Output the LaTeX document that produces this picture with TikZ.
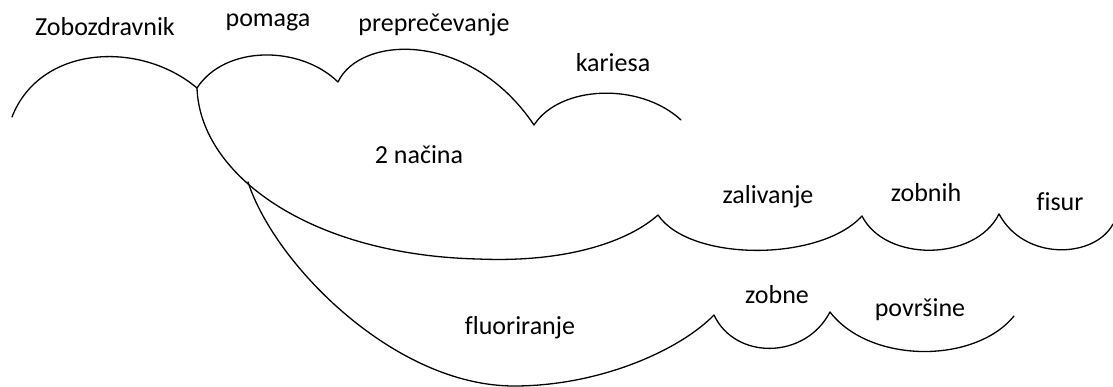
\documentclass[tikz,border=0pt]{standalone}
\usepackage{fontspec}
\setmainfont{Carlito}[Ligatures=NoCommon]
\begin{document}
\begin{tikzpicture}[x=1pt,y=-1pt,
  lbl/.style={anchor=base, inner sep=0pt, font=\fontsize{26}{30}\selectfont},
  link/.style={line width=1.3pt, line cap=round}]
\useasboundingbox (0,0) rectangle (1113,387);
% words
\node[lbl] (w1) at (105,36) {Zobozdravnik};
\node[lbl] (w2) at (268,27) {pomaga};
\node[lbl] (w3) at (434,32) {preprečevanje};
\node[lbl] (w4) at (613,72) {kariesa};
\node[lbl] (w5) at (419,164) {2 načina};
\node[lbl] (w6) at (768,204) {zalivanje};
\node[lbl] (w7) at (926,202) {zobnih};
\node[lbl] (w8) at (1060,211) {fisur};
\node[lbl] (w9) at (520,334) {fluoriranje};
\node[lbl] (w10) at (777,303) {zobne};
\node[lbl] (w11) at (920,316) {površine};
% junction points
\coordinate (s0) at (12,117);
\coordinate (j1) at (197,88);
\coordinate (j2) at (338,82);
\coordinate (j3) at (534,125);
\coordinate (e4) at (681,120);
\coordinate (m1) at (478,259);
\coordinate (j5) at (658,215);
\coordinate (j6) at (862,216);
\coordinate (j7) at (999,214);
\coordinate (e8) at (1113,224);
\coordinate (j9) at (248,182);
\coordinate (m2) at (514,386);
\coordinate (j10) at (714,315);
\coordinate (j11) at (830,312);
\coordinate (e12) at (1014,316);
% upper arcs
\draw[link] (s0) .. controls (40,45) and (140,40) .. (j1);
\draw[link] (j1) .. controls (225,45) and (300,45) .. (j2);
\draw[link] (j2) .. controls (360,35) and (470,30) .. (j3);
\draw[link] (j3) .. controls (560,85) and (640,82) .. (e4);
% lower arcs
\draw[link] (j1) .. controls (200,175) and (310,255) .. (m1)
  .. controls (570,263) and (630,240) .. (j5);
\draw[link] (j5) .. controls (690,262) and (820,262) .. (j6);
\draw[link] (j6) .. controls (885,262) and (975,262) .. (j7);
\draw[link] (j7) .. controls (1025,262) and (1095,258) .. (e8);
\draw[link] (j9) .. controls (275,265) and (395,386) .. (m2)
  .. controls (600,386) and (680,350) .. (j10);
\draw[link] (j10) .. controls (735,360) and (805,360) .. (j11);
\draw[link] (j11) .. controls (870,364) and (975,364) .. (e12);
\end{tikzpicture}
\end{document}
